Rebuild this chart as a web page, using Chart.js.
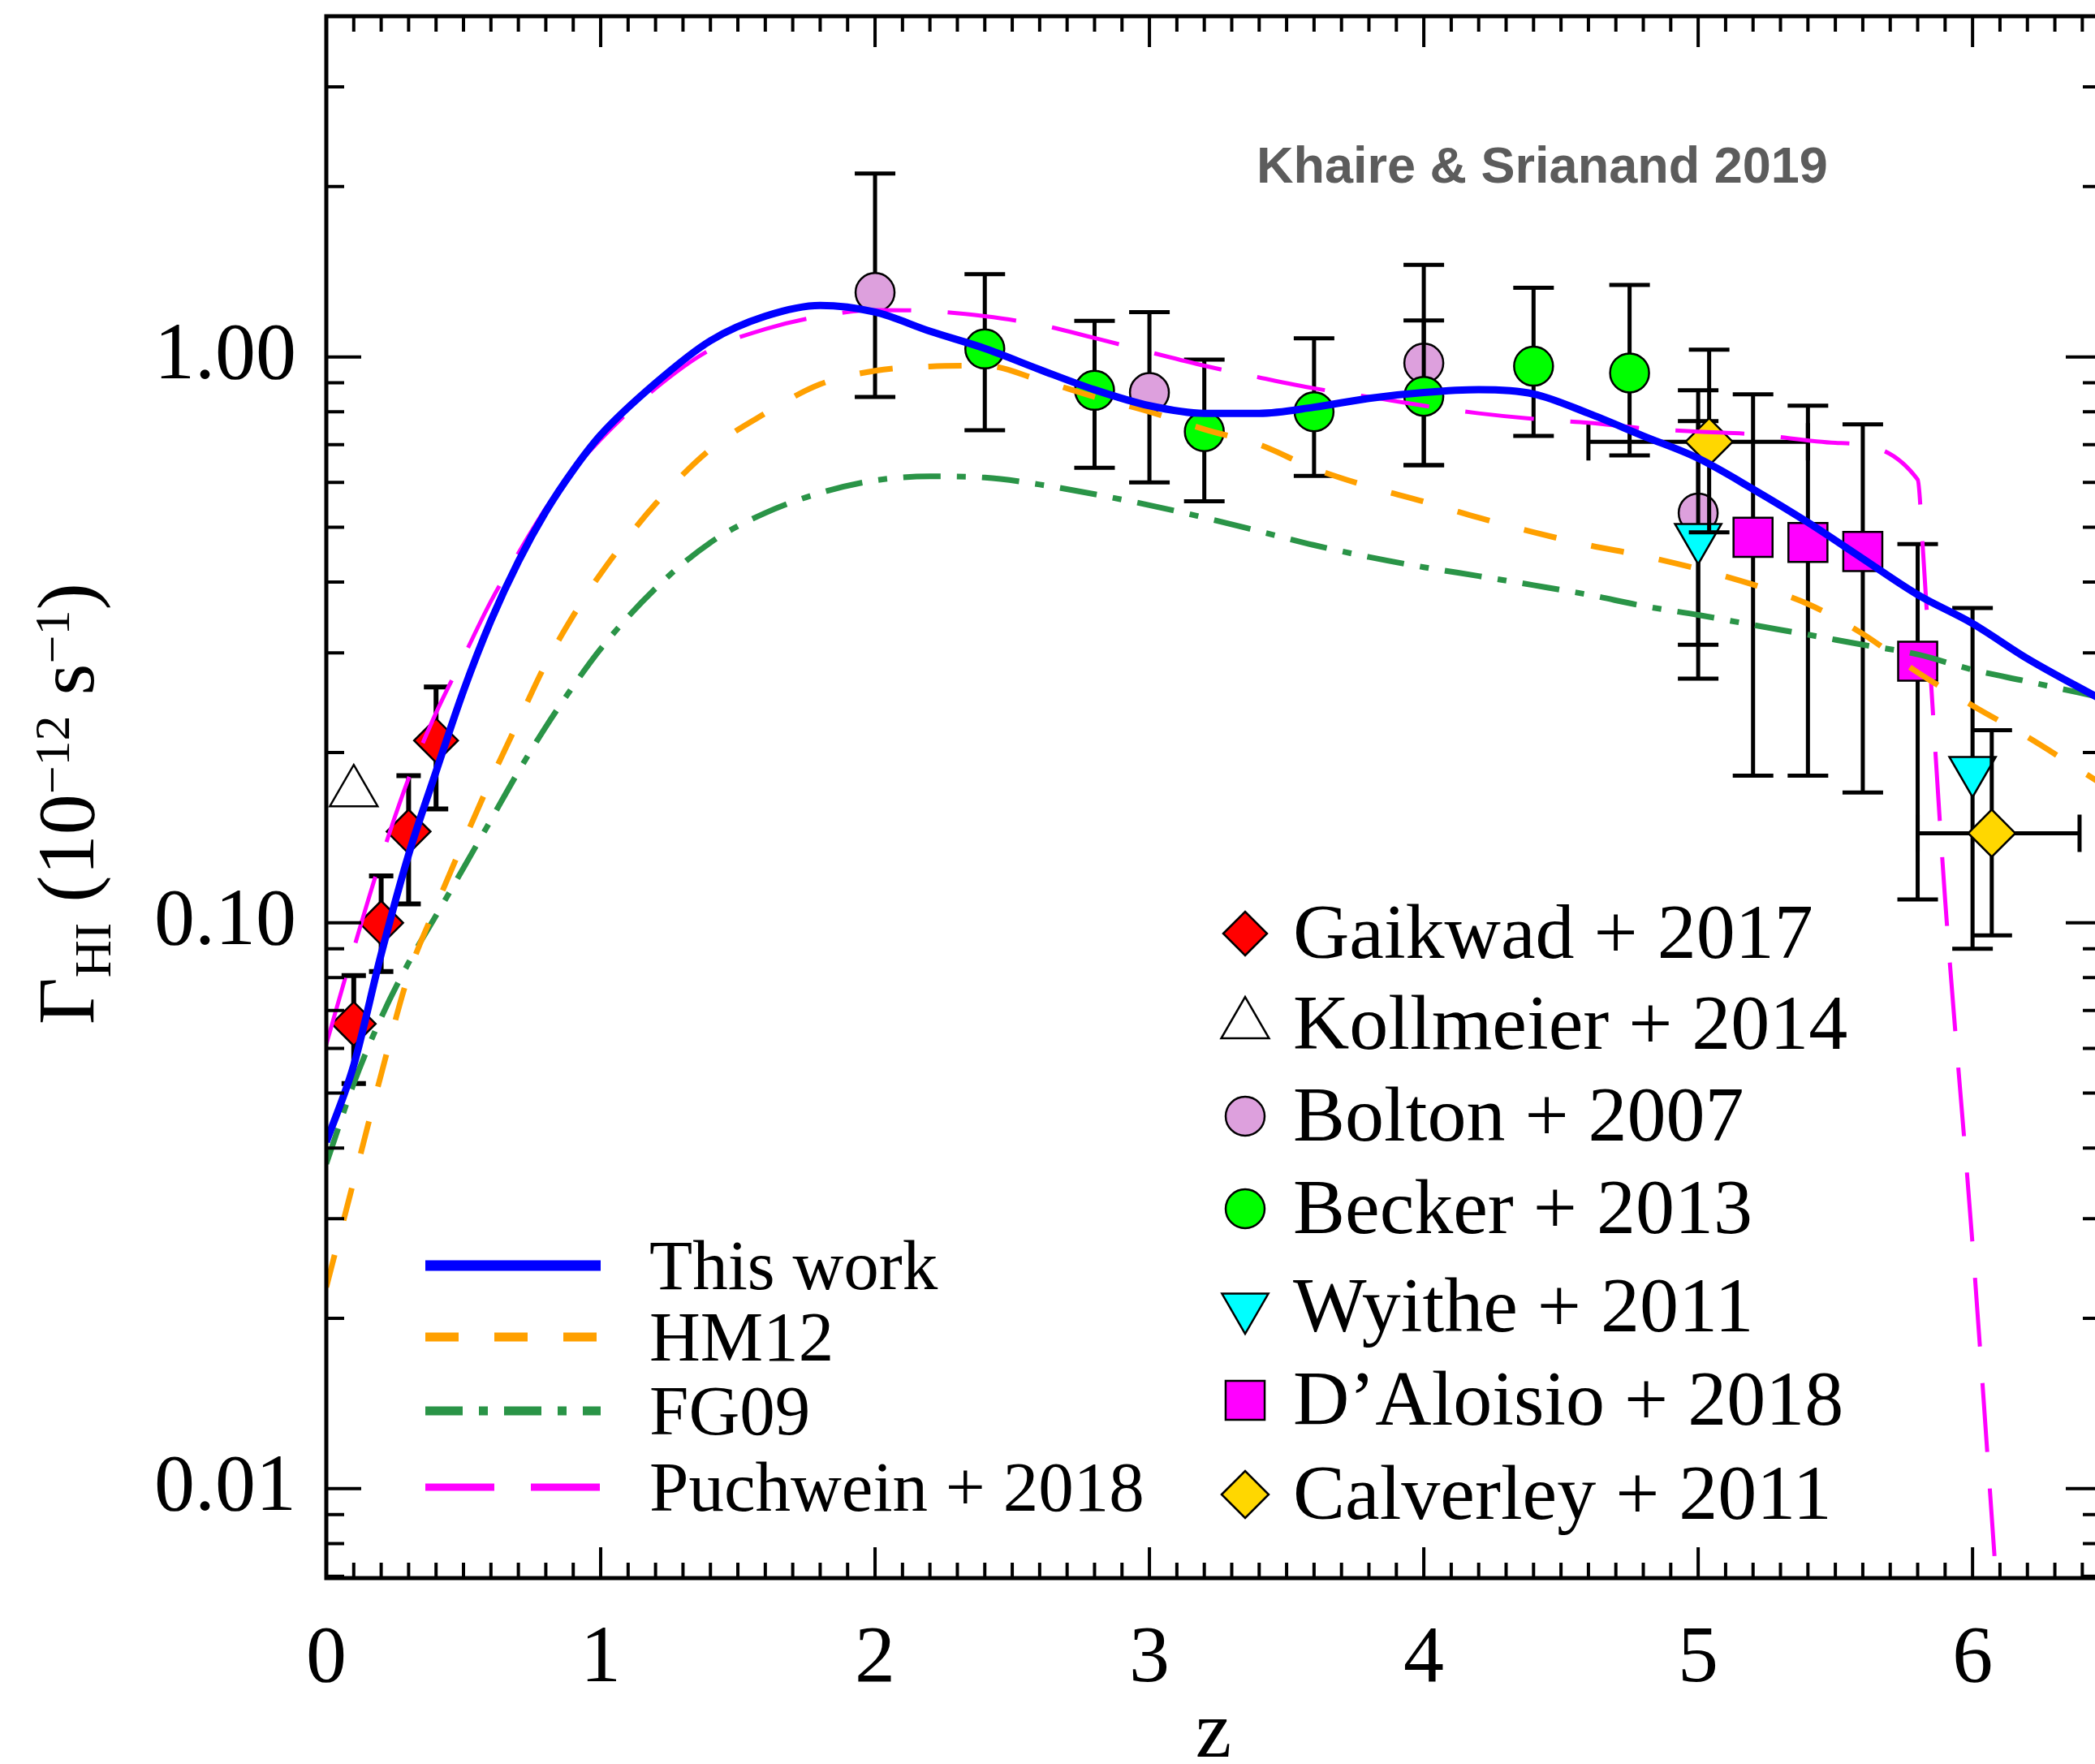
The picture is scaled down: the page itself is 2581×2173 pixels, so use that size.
<!DOCTYPE html>
<html>
<head>
<meta charset="utf-8">
<title>HI photoionization rate</title>
<script src="https://cdn.jsdelivr.net/npm/chart.js@4.4.1/dist/chart.umd.min.js"></script>
<style>
  html, body { margin: 0; padding: 0; background: #fff; overflow: hidden; }
  #wrap { width: 2588px; height: 2173px; }
</style>
</head>
<body>
<div id="wrap"><canvas id="gammaChart" width="2588" height="2173"></canvas></div>
<script>
// Axis limits (redshift, Gamma_HI in 1e-12 s^-1)
const Z_MIN = 0, Z_MAX = 6.467;
const G_MIN = 0.00695, G_MAX = 4.0;
const xMajor = [0, 1, 2, 3, 4, 5, 6];
const yMajor = [0.01, 0.1, 1];

// Model curves
const zModel = [0, 0.1, 0.2, 0.3, 0.4, 0.5, 0.6, 0.7, 0.8, 0.9, 1.0, 1.2, 1.4, 1.6, 1.8,
  2.0, 2.2, 2.4, 2.6, 2.8, 3.0, 3.2, 3.4, 3.6, 3.8, 4.0, 4.2, 4.4, 4.6, 4.8,
  5.0, 5.2, 5.4, 5.6, 5.8, 6.0, 6.2, 6.47];
const gThisWork = [0.041, 0.056, 0.088, 0.132, 0.185, 0.257, 0.342, 0.435, 0.533, 0.631, 0.728, 0.899, 1.068, 1.18, 1.233,
  1.20, 1.11, 1.035, 0.95, 0.875, 0.82, 0.795, 0.795, 0.815, 0.845, 0.865, 0.875, 0.86, 0.795, 0.725,
  0.662, 0.584, 0.51, 0.44, 0.38, 0.338, 0.293, 0.248];
const gHM12 = [0.0227, 0.035, 0.054, 0.081, 0.107, 0.139, 0.179, 0.227, 0.287, 0.349, 0.414, 0.55, 0.687, 0.795, 0.895,
  0.945, 0.962, 0.965, 0.91, 0.85, 0.80, 0.745, 0.70, 0.635, 0.59, 0.555, 0.52, 0.49, 0.465, 0.445,
  0.422, 0.396, 0.366, 0.324, 0.277, 0.242, 0.213, 0.176];
const gFG09 = [0.0375, 0.052, 0.068, 0.085, 0.103, 0.125, 0.152, 0.185, 0.222, 0.262, 0.305, 0.39, 0.47, 0.53, 0.575,
  0.605, 0.615, 0.612, 0.595, 0.572, 0.547, 0.52, 0.492, 0.465, 0.443, 0.425, 0.41, 0.395, 0.38, 0.363,
  0.35, 0.336, 0.323, 0.31, 0.298, 0.28, 0.267, 0.25];
const zPuch = [0, 0.1, 0.2, 0.3, 0.4, 0.5, 0.6, 0.7, 0.8, 0.9, 1.0, 1.2, 1.4, 1.6, 1.8,
  2.0, 2.2, 2.4, 2.6, 2.8, 3.0, 3.2, 3.4, 3.6, 3.8, 4.0, 4.2, 4.4, 4.6, 4.8,
  5.0, 5.2, 5.5, 5.8, 5.82, 5.85, 5.9, 6.0, 6.08];
const gPuch = [0.061, 0.09, 0.13, 0.18, 0.235, 0.295, 0.37, 0.45, 0.54, 0.63, 0.715, 0.88, 1.03, 1.12, 1.18,
  1.21, 1.205, 1.18, 1.14, 1.08, 1.02, 0.965, 0.92, 0.88, 0.85, 0.82, 0.795, 0.777, 0.765, 0.748,
  0.738, 0.73, 0.705, 0.607, 0.45, 0.26, 0.11, 0.027, 0.0076];

// Measurements
const gaikZ = [0.1, 0.2, 0.3, 0.4];
const gaikG = [0.0663, 0.100, 0.145, 0.210];
const gaikLo = [0.052, 0.082, 0.108, 0.159];
const gaikHi = [0.0807, 0.121, 0.182, 0.261];

const kollZ = [0.1];
const kollG = [0.17];

const boltZ = [2.0, 3.0, 4.0, 5.0];
const boltG = [1.30, 0.865, 0.975, 0.53];
const boltLo = [0.85, 0.60, 0.644, 0.31];
const boltHi = [2.11, 1.20, 1.455, 0.873];

const beckZ = [2.4, 2.8, 3.2, 3.6, 4.0, 4.4, 4.75];
const beckG = [1.033, 0.873, 0.738, 0.80, 0.852, 0.963, 0.937];
const beckLo = [0.742, 0.637, 0.556, 0.616, 0.644, 0.725, 0.67];
const beckHi = [1.40, 1.158, 0.989, 1.079, 1.16, 1.325, 1.34];

const wyZ = [5.0, 6.0];
const wyG = [0.48, 0.186];
const wyLo = [0.27, 0.09];
const wyHi = [0.77, 0.36];

const dalZ = [5.2, 5.4, 5.6, 5.8];
const dalG = [0.48, 0.47, 0.453, 0.29];
const dalLo = [0.182, 0.182, 0.17, 0.11];
const dalHi = [0.859, 0.82, 0.76, 0.467];

const calZ = [5.04, 6.07];
const calG = [0.708, 0.144];
const calLo = [0.49, 0.095];
const calHi = [1.03, 0.219];
const calZLo = [4.6, 5.8];
const calZHi = [5.4, 6.39];

const SERIF = '"Liberation Serif", "Times New Roman", serif';

function pts(xs, ys) { return xs.map((x, i) => ({ x, y: ys[i] })); }

function curve(label, xs, ys, color, width, dash) {
  return {
    type: 'line', label, data: pts(xs, ys),
    borderColor: color, borderWidth: width, borderDash: dash,
    pointRadius: 0, fill: false, cubicInterpolationMode: 'monotone',
  };
}

function marks(label, xs, ys, style, fill, radius, extra) {
  return Object.assign({
    type: 'scatter', label, data: pts(xs, ys),
    pointStyle: style, pointRadius: radius,
    pointBackgroundColor: fill, pointBorderColor: '#000', pointBorderWidth: 2.5,
    backgroundColor: fill, borderColor: '#000',
  }, extra || {});
}

// Curves first so they are painted last (on top of the symbols).
const datasets = [
  curve('This work', zModel, gThisWork, '#0000ff', 9, []),
  curve('HM12', zModel, gHM12, '#ffa000', 7, [41, 44]),
  curve('FG09', zModel, gFG09, '#2a9447', 7, [46, 20, 11, 20]),
  curve('Puchwein + 2018', zPuch, gPuch, '#ff00ff', 5, [85, 45]),
  marks('Calverley + 2011', calZ, calG, 'rectRot', '#ffd700', 29,
    { errLo: calLo, errHi: calHi, errZLo: calZLo, errZHi: calZHi, capHalf: 25, errWidth: 5 }),
  marks('D\u2019Aloisio + 2018', dalZ, dalG, 'rect', '#ff00ff', 34,
    { errLo: dalLo, errHi: dalHi, capHalf: 25, errWidth: 5 }),
  marks('Wyithe + 2011', wyZ, wyG, 'triangle', '#00ffff', 33,
    { pointRotation: 180, errLo: wyLo, errHi: wyHi, capHalf: 25, errWidth: 5 }),
  marks('Becker + 2013', beckZ, beckG, 'circle', '#00ff00', 24,
    { errLo: beckLo, errHi: beckHi, capHalf: 25, errWidth: 5 }),
  marks('Bolton + 2007', boltZ, boltG, 'circle', '#dda0dd', 24,
    { errLo: boltLo, errHi: boltHi, capHalf: 25, errWidth: 5 }),
  marks('Kollmeier + 2014', kollZ, kollG, 'triangle', 'rgba(255,255,255,0)', 34),
  marks('Gaikwad + 2017', gaikZ, gaikG, 'rectRot', '#ff0000', 27,
    { errLo: gaikLo, errHi: gaikHi, capHalf: 15, errWidth: 6 }),
];

// Error bars are painted just before their own symbols.
const errorBars = {
  id: 'errorBars',
  beforeDatasetDraw(chart, args) {
    const ds = chart.data.datasets[args.index];
    if (!ds.errLo) return;
    const { ctx, scales: { x, y } } = chart;
    ctx.save();
    ctx.strokeStyle = '#000';
    ctx.lineWidth = ds.errWidth;
    const c = ds.capHalf;
    ds.data.forEach((p, i) => {
      const px = x.getPixelForValue(p.x);
      const py = y.getPixelForValue(p.y);
      const lo = y.getPixelForValue(ds.errLo[i]);
      const hi = y.getPixelForValue(ds.errHi[i]);
      ctx.beginPath();
      ctx.moveTo(px, lo); ctx.lineTo(px, hi);
      ctx.moveTo(px - c, lo); ctx.lineTo(px + c, lo);
      ctx.moveTo(px - c, hi); ctx.lineTo(px + c, hi);
      if (ds.errZLo) {
        const l = x.getPixelForValue(ds.errZLo[i]);
        const r = x.getPixelForValue(ds.errZHi[i]);
        ctx.moveTo(l, py); ctx.lineTo(r, py);
        ctx.moveTo(l, py - 23); ctx.lineTo(l, py + 23);
        ctx.moveTo(r, py - 23); ctx.lineTo(r, py + 23);
      }
      ctx.stroke();
    });
    ctx.restore();
  }
};

function symbol(ctx, style, x, y, r, rot) {
  ctx.beginPath();
  if (style === 'circle') {
    ctx.arc(x, y, r, 0, Math.PI * 2);
  } else if (style === 'rectRot') {
    ctx.moveTo(x - r, y); ctx.lineTo(x, y - r); ctx.lineTo(x + r, y); ctx.lineTo(x, y + r);
  } else if (style === 'rect') {
    const s = r * Math.SQRT1_2;
    ctx.rect(x - s, y - s, 2 * s, 2 * s);
  } else if (style === 'triangle') {
    const a0 = (rot || 0) * Math.PI / 180;
    for (let k = 0; k < 3; k++) {
      const a = a0 + k * 2 * Math.PI / 3;
      const px = x + Math.sin(a) * r, py = y - Math.cos(a) * r;
      if (k === 0) ctx.moveTo(px, py); else ctx.lineTo(px, py);
    }
  }
  ctx.closePath();
  ctx.fill();
  ctx.stroke();
}

// Frame with inward ticks, both legends, the y-axis title and the credit line.
const decorations = {
  id: 'decorations',
  afterDraw(chart) {
    const { ctx, chartArea: a, scales: { x, y } } = chart;
    ctx.save();
    ctx.strokeStyle = '#000';
    ctx.lineWidth = 4;
    ctx.beginPath();
    for (let k = 0; k <= Math.floor(Z_MAX * 10 + 1e-6); k++) {
      const px = x.getPixelForValue(k / 10);
      const len = k % 10 === 0 ? 38 : 19;
      ctx.moveTo(px, a.bottom); ctx.lineTo(px, a.bottom - len);
      ctx.moveTo(px, a.top); ctx.lineTo(px, a.top + len);
    }
    for (let d = -3; d <= 0; d++) {
      for (let m = 1; m <= 9; m++) {
        const v = m * Math.pow(10, d);
        if (v < G_MIN || v > G_MAX * 0.999) continue;
        const py = y.getPixelForValue(v);
        const len = m === 1 ? 43 : 22;
        ctx.moveTo(a.left, py); ctx.lineTo(a.left + len, py);
        ctx.moveTo(a.right, py); ctx.lineTo(a.right - len, py);
      }
    }
    ctx.stroke();
    ctx.lineWidth = 5;
    ctx.strokeRect(a.left, a.top, a.right - a.left, a.bottom - a.top);

    // model legend
    const ds = chart.data.datasets;
    const lineRows = [1559, 1647, 1738, 1832];
    ctx.font = '87px ' + SERIF;
    ctx.fillStyle = '#000';
    ctx.textBaseline = 'alphabetic';
    for (let i = 0; i < 4; i++) {
      const yy = lineRows[i];
      ctx.save();
      ctx.strokeStyle = ds[i].borderColor;
      ctx.lineWidth = ds[i].borderWidth + 4;
      ctx.setLineDash(ds[i].borderDash);
      ctx.beginPath();
      ctx.moveTo(524, yy); ctx.lineTo(740, yy);
      ctx.stroke();
      ctx.restore();
      ctx.fillText(ds[i].label, 800, yy + 29);
    }

    // data legend
    const order = [10, 9, 8, 7, 6, 5, 4];
    const symRows = [1150, 1262, 1375, 1489, 1610, 1725, 1841];
    ctx.font = '96px ' + SERIF;
    order.forEach((idx, r) => {
      const d = ds[idx];
      const yy = symRows[r];
      ctx.save();
      ctx.fillStyle = d.pointBackgroundColor;
      ctx.strokeStyle = '#000';
      ctx.lineWidth = 2.5;
      symbol(ctx, d.pointStyle, 1534, yy, d.pointRadius, d.pointRotation);
      ctx.restore();
      ctx.fillText(d.label, 1593, yy + 30);
    });

    // y-axis title: Gamma_HI (10^-12 s^-1)
    ctx.save();
    ctx.translate(115, 1262);
    ctx.rotate(-Math.PI / 2);
    const parts = [['\u0393', 100, 0], ['HI', 64, 21], [' (10', 100, 0], ['\u221212', 62, -30],
      [' s', 100, 0], ['\u22121', 62, -30], [')', 100, 0]];
    let cx = 0;
    for (const [t, size, dy] of parts) {
      ctx.font = size + 'px ' + SERIF;
      ctx.fillText(t, cx, dy);
      cx += ctx.measureText(t).width;
    }
    ctx.restore();

    ctx.font = 'bold 63px "Liberation Sans", Arial, sans-serif';
    ctx.fillStyle = '#5c5c5c';
    ctx.fillText('Khaire & Srianand 2019', 1548, 225);
    ctx.restore();
  }
};

// Drop the label overhang padding so the plot box sits exactly where the axes are placed.
function noPad(s) {
  s.paddingLeft = 0; s.paddingRight = 0; s.paddingTop = 0; s.paddingBottom = 0;
}

function build() {
  new Chart(document.getElementById('gammaChart'), {
    type: 'scatter',
    data: { datasets },
    options: {
      responsive: false,
      animation: false,
      events: [],
      layout: { autoPadding: false, padding: { top: 20, left: 0, right: 0, bottom: 0 } },
      plugins: { legend: { display: false }, tooltip: { enabled: false } },
      scales: {
        x: {
          type: 'linear', min: Z_MIN, max: Z_MAX,
          afterBuildTicks: s => { s.ticks = xMajor.map(v => ({ value: v })); },
          afterFit: s => { s.height = 229; noPad(s); },
          grid: { display: false }, border: { display: false },
          ticks: { padding: 33, color: '#000', autoSkip: false, maxRotation: 0,
            font: { family: SERIF, size: 100, lineHeight: 1.2 }, callback: v => String(v) },
          title: { display: true, text: 'z', color: '#000', padding: 0,
            font: { family: SERIF, size: 100, lineHeight: 0.7 } },
        },
        y: {
          type: 'logarithmic', min: G_MIN, max: G_MAX,
          afterBuildTicks: s => { s.ticks = yMajor.map(v => ({ value: v })); },
          afterFit: s => { s.width = 402; noPad(s); },
          grid: { display: false }, border: { display: false },
          ticks: { padding: 29, color: '#000', autoSkip: false,
            font: { family: SERIF, size: 100, lineHeight: 1.2 }, callback: v => Number(v).toFixed(2) },
        },
      },
    },
    plugins: [errorBars, decorations],
  });
}

Promise.all([
  document.fonts.load('100px "Liberation Serif"'),
  document.fonts.load('bold 63px "Liberation Sans"'),
]).then(build, build);
</script>
</body>
</html>
